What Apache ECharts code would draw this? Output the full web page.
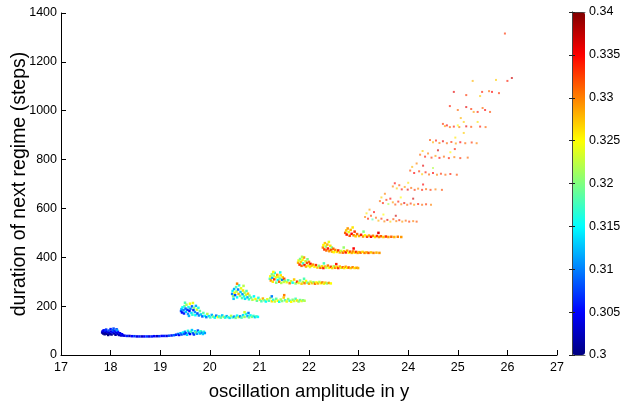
<!DOCTYPE html>
<html>
<head>
<meta charset="utf-8">
<script src="https://cdn.jsdelivr.net/npm/echarts@6/dist/echarts.min.js"></script>
<style>html,body{margin:0;padding:0;background:#fff}#c{width:626px;height:402px}</style>
</head>
<body>
<div id="c"></div>
<script>
// Each point: [oscillation amplitude in y, duration of next regime (steps), colour value]
const band01 = [[17.83,92,.302],[17.84,97,.304],[17.85,88,.301],[17.86,101,.305],[17.87,94,.303],[17.88,85,.300],[17.89,99,.306],[17.90,90,.302],[17.91,104,.307],[17.92,87,.301],[17.93,95,.304],[17.95,82,.300],[17.96,100,.308],[17.97,91,.303],[17.99,86,.302],[18.00,106,.306],[18.01,96,.304],[18.02,84,.301],[18.04,93,.305],[18.05,101,.309],[18.07,88,.302],[18.08,97,.306],[18.10,83,.301],[18.11,92,.304],[18.12,105,.307],[18.14,86,.303],[18.15,95,.305],[18.17,82,.302],[18.19,89,.304],[18.21,80,.303],[18.23,85,.305],[18.25,80,.304],[18.06,108,.308],[18.13,102,.311],
[18.28,79,.304],[18.33,78,.306],[18.38,78,.303],[18.43,77,.305],[18.48,77,.307],[18.53,76,.304],[18.58,76,.306],[18.63,76,.303],[18.68,76,.305],[18.73,76,.307],[18.78,76,.304],[18.83,76,.306],[18.88,77,.305],[18.93,77,.303],[18.98,77,.307],[19.03,78,.305],[19.08,78,.306],[19.13,78,.304],[19.18,79,.308],[19.23,80,.306],[19.28,81,.309],
[19.32,83,.306],[19.36,86,.31],[19.38,82,.305],[19.41,89,.312],[19.43,84,.308],[19.46,92,.315],[19.48,86,.309],[19.50,95,.311],[19.52,88,.306],[19.54,83,.313],[19.56,99,.316],[19.58,91,.31],[19.60,86,.305],[19.62,95,.318],[19.64,102,.313],[19.66,89,.309],[19.68,84,.307],[19.70,97,.314],[19.72,92,.32],[19.74,87,.311],[19.76,100,.308],[19.78,94,.315],[19.80,88,.312],[19.82,97,.317],[19.84,91,.31],[19.86,86,.313],[19.88,95,.316],[19.90,90,.311]];
const band02 = [[19.42,180,.308],[19.43,188,.312],[19.44,174,.305],[19.45,195,.315],[19.47,183,.31],[19.48,170,.306],[19.49,200,.318],[19.51,190,.309],[19.52,177,.313],[19.53,206,.322],[19.55,185,.307],[19.56,168,.311],[19.57,196,.316],[19.59,180,.305],[19.60,210,.325],[19.61,189,.31],[19.63,172,.314],[19.64,199,.309],[19.65,165,.317],[19.67,184,.306],[19.68,193,.32],[19.70,176,.311],[19.71,163,.315],[19.72,201,.312],[19.74,186,.323],[19.75,170,.308],[19.77,193,.316],[19.78,162,.31],[19.80,180,.319],[19.50,214,.318],[19.66,213,.324],[19.58,160,.312],
[19.82,166,.313],[19.85,158,.309],[19.87,172,.318],[19.90,160,.315],[19.93,155,.31],[19.95,168,.322],[19.98,159,.314],[20.01,154,.317],[20.04,164,.312],[20.07,157,.32],[20.10,153,.315],[20.13,161,.31],[20.16,155,.324],[20.19,158,.316],[20.22,153,.319],[20.25,162,.313],[20.28,156,.321],[20.31,153,.316],[20.34,159,.312],[20.37,155,.318],[20.40,152,.314],[20.43,160,.322],[20.46,154,.317],[20.49,157,.311],[20.52,152,.319],[20.55,161,.315],[20.58,155,.323],[20.61,158,.31],[20.64,153,.318],[20.67,163,.314],[20.70,156,.321],[20.73,168,.316],[20.76,159,.312],[20.79,154,.319],[20.82,162,.315],[20.85,156,.32],[20.88,160,.317],[20.91,155,.313],[20.94,158,.318],[20.97,156,.315],[20.70,175,.323],[20.78,172,.31]];
const band03 = [[20.45,250,.31],[20.46,262,.315],[20.47,241,.32],[20.49,270,.312],[20.50,255,.325],[20.51,245,.308],[20.53,278,.318],[20.54,260,.322],[20.55,236,.315],[20.57,268,.31],[20.58,250,.328],[20.59,285,.316],[20.61,242,.32],[20.62,258,.313],[20.63,273,.324],[20.65,233,.318],[20.66,249,.311],[20.67,264,.326],[20.69,240,.316],[20.70,255,.321],[20.71,230,.314],[20.73,246,.323],[20.74,262,.318],[20.76,236,.312],[20.77,251,.327],[20.79,228,.317],[20.80,243,.32],[20.55,292,.33],[20.68,283,.322],[20.48,230,.313],
[20.83,235,.318],[20.86,226,.322],[20.89,240,.315],[20.92,229,.325],[20.95,222,.319],[20.98,234,.316],[21.01,226,.323],[21.04,220,.318],[21.07,231,.328],[21.10,224,.32],[21.13,219,.315],[21.16,228,.324],[21.19,222,.318],[21.22,233,.321],[21.25,220,.326],[21.28,226,.317],[21.31,219,.323],[21.34,230,.319],[21.37,222,.325],[21.40,218,.316],[21.43,227,.322],[21.46,221,.32],[21.49,235,.327],[21.52,224,.318],[21.55,219,.324],[21.58,229,.321],[21.61,222,.317],[21.64,218,.325],[21.67,226,.32],[21.70,221,.323],[21.73,230,.318],[21.76,223,.326],[21.79,219,.321],[21.82,225,.319],[21.85,221,.324],[21.88,224,.32],[21.91,222,.322],[21.25,240,.31],[21.50,245,.33]];
const band04 = [[21.21,312,.318],[21.22,322,.325],[21.23,305,.329],[21.25,330,.32],[21.26,316,.312],[21.27,300,.326],[21.29,325,.322],[21.30,310,.333],[21.31,336,.316],[21.33,318,.324],[21.34,296,.32],[21.36,328,.329],[21.37,307,.315],[21.38,320,.324],[21.40,300,.331],[21.41,313,.319],[21.43,326,.326],[21.44,295,.322],[21.46,308,.31],[21.47,318,.327],[21.49,299,.323],[21.50,312,.332],[21.52,304,.32],[21.28,340,.325],[21.42,338,.316],
[21.55,298,.324],[21.58,306,.318],[21.61,294,.33],[21.64,302,.323],[21.67,296,.316],[21.70,309,.327],[21.73,293,.321],[21.76,300,.333],[21.79,295,.324],[21.82,305,.319],[21.85,292,.327],[21.88,299,.322],[21.91,294,.33],[21.94,303,.325],[21.97,296,.319],[22.00,292,.328],[22.03,300,.323],[22.06,294,.327],[22.09,298,.321],[22.12,292,.331],[22.15,297,.325],[22.18,293,.328],[22.21,299,.322],[22.24,294,.326],[22.27,297,.33],[22.30,292,.324],[22.33,296,.327],[22.36,293,.321],[22.40,295,.329],[22.44,293,.325],[21.90,312,.318]];
const band05 = [[21.78,378,.328],[21.79,387,.324],[21.81,370,.333],[21.82,393,.32],[21.84,381,.327],[21.85,365,.331],[21.87,390,.325],[21.88,375,.317],[21.90,399,.329],[21.91,368,.334],[21.93,384,.323],[21.94,362,.328],[21.96,377,.332],[21.97,392,.32],[21.99,366,.326],[22.00,381,.33],[22.02,360,.324],[22.03,373,.335],[22.05,365,.327],[21.86,402,.322],
[22.08,370,.329],[22.11,361,.325],[22.14,368,.333],[22.17,358,.327],[22.20,365,.321],[22.23,357,.331],[22.26,363,.326],[22.29,356,.334],[22.32,362,.328],[22.35,358,.323],[22.38,366,.33],[22.41,357,.325],[22.44,361,.332],[22.47,356,.327],[22.50,363,.322],[22.53,357,.33],[22.56,360,.326],[22.59,356,.333],[22.62,362,.328],[22.65,357,.324],[22.68,359,.331],[22.71,356,.326],[22.74,361,.329],[22.77,357,.325],[22.80,358,.332],[22.84,356,.327],[22.88,359,.33],[22.92,356,.326],[22.96,357,.329],[22.99,356,.328],[22.30,375,.318],[22.55,372,.334]];
const band06 = [[22.28,440,.33],[22.29,450,.325],[22.31,432,.333],[22.32,458,.327],[22.34,444,.321],[22.35,428,.331],[22.37,452,.328],[22.38,436,.334],[22.40,463,.324],[22.41,425,.329],[22.43,447,.326],[22.44,431,.332],[22.46,440,.32],[22.47,423,.328],[22.49,435,.331],[22.50,421,.325],
[22.53,430,.33],[22.56,422,.326],[22.59,428,.333],[22.62,420,.328],[22.65,426,.323],[22.68,419,.331],[22.71,425,.327],[22.74,420,.334],[22.77,427,.329],[22.80,419,.325],[22.83,423,.332],[22.86,418,.328],[22.89,424,.33],[22.92,419,.326],[22.95,422,.333],[22.98,418,.329],[23.01,421,.327],[23.04,419,.331],[23.08,422,.326],[23.12,418,.33],[23.16,420,.328],[23.20,418,.332],[23.25,420,.327],[23.30,418,.33],[23.36,419,.328],[23.42,418,.329],[22.70,440,.321],[22.90,436,.335]];
const band07 = [[22.73,500,.331],[22.75,510,.327],[22.76,493,.334],[22.78,518,.329],[22.80,503,.324],[22.82,488,.332],[22.84,512,.328],[22.86,496,.335],[22.88,522,.326],[22.90,490,.33],[22.92,505,.333],[22.94,486,.327],
[22.97,495,.331],[23.01,487,.328],[23.05,492,.334],[23.09,485,.329],[23.13,490,.325],[23.17,484,.332],[23.21,489,.328],[23.25,484,.335],[23.29,488,.33],[23.33,483,.326],[23.37,487,.333],[23.41,483,.329],[23.45,486,.331],[23.50,483,.327],[23.55,485,.333],[23.60,483,.329],[23.66,484,.331],[23.72,483,.328],[23.79,484,.33],[23.86,483,.329],[23.10,505,.32],[23.40,500,.336]];
const band08 = [[23.13,565,.33],[23.16,580,.326],[23.19,558,.334],[23.22,595,.329],[23.25,570,.332],[23.28,555,.318],[23.31,585,.335],[23.35,562,.331],[23.40,550,.328],[23.46,558,.333],[23.52,547,.33],[23.58,553,.336],[23.64,546,.327],[23.70,556,.332],[23.76,548,.33],[23.82,552,.334],[23.88,546,.329],[23.95,550,.331],[24.02,546,.333],[24.10,548,.33],[24.17,546,.332],[23.50,575,.325],[23.75,570,.337]];
const band09 = [[23.43,630,.331],[23.46,645,.327],[23.49,622,.334],[23.53,660,.33],[23.56,635,.333],[23.60,618,.322],[23.64,640,.335],[23.69,625,.329],[23.74,616,.332],[23.80,628,.334],[23.86,617,.33],[23.92,622,.336],[23.98,615,.331],[24.05,620,.333],[24.12,615,.329],[24.20,618,.334],[24.28,615,.331],[24.36,617,.333],[24.46,615,.33],[23.85,645,.325],[24.10,640,.337]];
const band10 = [[23.69,690,.33],[23.73,703,.335],[23.77,682,.327],[23.82,695,.332],[23.87,678,.334],[23.93,688,.329],[23.99,677,.336],[24.06,684,.331],[24.13,676,.333],[24.20,681,.33],[24.28,676,.334],[24.36,679,.331],[24.45,676,.333],[24.55,678,.33],[24.68,676,.332],[24.00,705,.326],[24.30,698,.335]];
const band11 = [[24.04,755,.332],[24.08,770,.328],[24.12,745,.335],[24.17,784,.33],[24.22,752,.333],[24.28,740,.327],[24.35,748,.334],[24.42,739,.331],[24.50,745,.335],[24.58,738,.33],[24.66,742,.333],[24.75,738,.331],[24.85,741,.334],[24.98,738,.332],[24.50,765,.322],[24.30,775,.336]];
const band12 = [[24.24,820,.331],[24.29,835,.327],[24.34,812,.334],[24.40,825,.33],[24.47,808,.333],[24.55,815,.329],[24.63,807,.335],[24.72,812,.331],[24.82,806,.334],[24.93,810,.33],[25.05,806,.333],[25.20,808,.331],[24.60,838,.337],[24.85,830,.325]];
const band13 = [[24.44,880,.332],[24.50,871,.328],[24.56,878,.334],[24.63,868,.33],[24.70,875,.336],[24.78,867,.331],[24.87,872,.333],[24.96,866,.329],[25.05,871,.335],[25.15,867,.331],[25.28,870,.333],[25.38,867,.33],[24.95,890,.326],[25.12,909,.327],[24.94,843,.334]];
const band14 = [[24.70,946,.333],[24.74,937,.329],[24.78,940,.335],[24.84,933,.331],[24.92,935,.334],[25.03,933,.33],[25.12,954,.327],[25.17,936,.336],[25.27,934,.332],[25.40,954,.326],[25.45,935,.334],[25.56,933,.331],[25.06,970,.328],[25.00,940,.325]];
const band15 = [[24.84,1019,.334],[25.00,1003,.331],[25.17,1015,.336],[25.27,1007,.333],[25.32,995,.329],[25.40,995,.334],[25.50,1011,.331],[25.55,1003,.335],[25.65,995,.332]];
const band16 = [[24.92,1077,.336],[25.17,1064,.333],[25.45,1060,.327],[25.49,1077,.334],[25.63,1080,.331],[25.69,1077,.335],[25.83,1072,.333]];
const band17 = [[25.30,1122,.328],[25.77,1126,.327],[26.00,1122,.334],[26.09,1134,.337],[25.95,1316,.333]];

const xTicks = [17,18,19,20,21,22,23,24,25,26,27];
const yTicks = [0,200,400,600,800,1000,1200,1400];
const colorTicks = [0.3,0.305,0.31,0.315,0.32,0.325,0.33,0.335,0.34];

const densePoints = [].concat(band01,band02,band03,band04,band05,band06,band07);
const sparsePoints = [].concat(band08,band09,band10,band11,band12,band13,band14,band15,band16,band17);

const jet = ['#000080','#0000ff','#0080ff','#00ffff','#80ff80','#ffff00','#ff8000','#ff0000','#800000'];
const FONT = '"Liberation Sans", Arial, Helvetica, sans-serif';

const chart = echarts.init(document.getElementById('c'), null, {renderer:'canvas'});
chart.setOption({
  animation:false,
  backgroundColor:'#fff',
  textStyle:{fontFamily:FONT},
  grid:[
    {left:61, top:13, width:496, height:342, containLabel:false, outerBoundsMode:'none'},
    {left:572, top:12, width:13, height:343, containLabel:false, outerBoundsMode:'none'}
  ],
  xAxis:[
    {gridIndex:0, type:'value', min:xTicks[0], max:xTicks[xTicks.length-1], interval:1,
     name:'oscillation amplitude in y', nameLocation:'middle', nameGap:27, nameMoveOverlap:false,
     nameTextStyle:{fontSize:18.5, color:'#000', fontFamily:FONT},
     axisLine:{show:true, onZero:false, lineStyle:{color:'#000', width:1}},
     axisTick:{show:true, inside:true, length:5, lineStyle:{color:'#000'}},
     axisLabel:{color:'#000', fontSize:12.5, margin:6, fontFamily:FONT, formatter:function(v){return String(v);}},
     splitLine:{show:false}},
    {gridIndex:1, type:'value', min:0, max:1, show:true, position:'bottom', z:10,
     axisLine:{show:true, lineStyle:{color:'#444', width:0.8}}, axisTick:{show:false}, axisLabel:{show:false}, splitLine:{show:false}},
    {gridIndex:1, type:'value', min:0, max:1, show:true, position:'top', z:10,
     axisLine:{show:true, lineStyle:{color:'#444', width:0.8}}, axisTick:{show:false}, axisLabel:{show:false}, splitLine:{show:false}}
  ],
  yAxis:[
    {gridIndex:0, type:'value', min:yTicks[0], max:yTicks[yTicks.length-1], interval:200,
     name:'duration of next regime (steps)', nameLocation:'middle', nameGap:31, nameRotate:90, nameMoveOverlap:false,
     nameTextStyle:{fontSize:19.5, color:'#000', fontFamily:FONT},
     axisLine:{show:true, onZero:false, lineStyle:{color:'#000', width:1}},
     axisTick:{show:true, inside:true, length:5, lineStyle:{color:'#000'}},
     axisLabel:{color:'#000', fontSize:12.5, margin:4, fontFamily:FONT, formatter:function(v){return String(v);}},
     splitLine:{show:false}},
    {gridIndex:1, type:'value', min:colorTicks[0], max:colorTicks[colorTicks.length-1], interval:0.005,
     position:'right', z:10,
     axisLine:{show:true, lineStyle:{color:'#444', width:0.8}},
     axisTick:{show:true, inside:true, length:3, lineStyle:{color:'#222'}},
     axisLabel:{color:'#000', fontSize:12.5, margin:4, fontFamily:FONT,
       formatter:function(v){return String(+v.toFixed(3));}},
     splitLine:{show:false}},
    {gridIndex:1, type:'value', min:colorTicks[0], max:colorTicks[colorTicks.length-1], interval:0.005,
     position:'left', z:10,
     axisLine:{show:true, lineStyle:{color:'#444', width:0.8}},
     axisTick:{show:true, inside:true, length:3, lineStyle:{color:'#222'}},
     axisLabel:{show:false}, splitLine:{show:false}}
  ],
  visualMap:{
    type:'continuous', min:0.3, max:0.34, dimension:2, seriesIndex:[0,1],
    calculable:false, realtime:false, hoverLink:false,
    left:572, top:12, itemWidth:13, itemHeight:343, padding:0,
    text:null, showLabel:false,
    inRange:{color:jet}
  },
  series:[
    {type:'scatter', xAxisIndex:0, yAxisIndex:0, symbol:'rect', symbolSize:2.5,
     itemStyle:{opacity:1}, data:densePoints, silent:true},
    {type:'scatter', xAxisIndex:0, yAxisIndex:0, symbol:'rect', symbolSize:2,
     itemStyle:{opacity:0.65}, data:sparsePoints, silent:true}
  ]
});
</script>
</body>
</html>
